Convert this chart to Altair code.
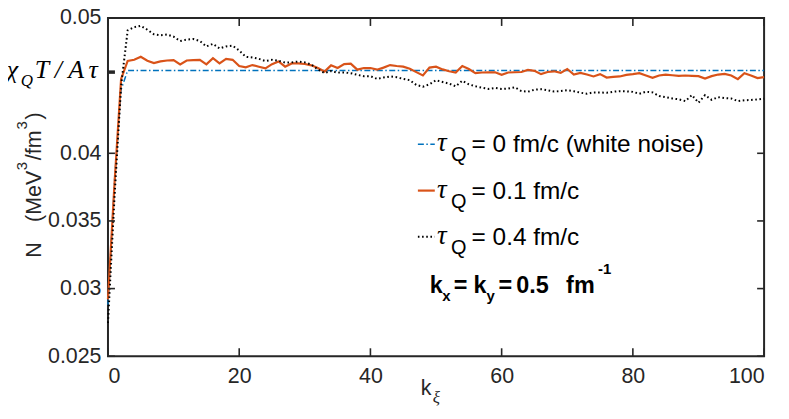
import altair as alt
import pandas as pd

# ---------------- data ----------------
k_grid = list(range(101))

n_orange = [0.0292, 0.0378, 0.0455, 0.04683, 0.04691, 0.04713, 0.04684, 0.04667, 0.04679, 0.04686,
            0.04688, 0.04657, 0.04686, 0.04688, 0.04691, 0.04657, 0.04703, 0.04664, 0.04698, 0.04691,
            0.04645, 0.04635, 0.04652, 0.04640, 0.04628, 0.04659, 0.04679, 0.04640, 0.04664, 0.04664,
            0.04660, 0.04650, 0.04630, 0.04604, 0.04650, 0.04630, 0.04659, 0.04662, 0.04618, 0.04630,
            0.04630, 0.04618, 0.04633, 0.04652, 0.04645, 0.04640, 0.04625, 0.04600, 0.04575, 0.04633,
            0.04640, 0.04620, 0.04606, 0.04597, 0.04645, 0.04623, 0.04592, 0.04597, 0.04598, 0.04599,
            0.04580, 0.04597, 0.04599, 0.04601, 0.04616, 0.04609, 0.04585, 0.04601, 0.04606, 0.04594,
            0.04623, 0.04582, 0.04594, 0.04582, 0.04568, 0.04585, 0.04560, 0.04565, 0.04568, 0.04580,
            0.04585, 0.04592, 0.04575, 0.04558, 0.04575, 0.04582, 0.04577, 0.04572, 0.04575, 0.04572,
            0.04570, 0.04553, 0.04570, 0.04582, 0.04587, 0.04575, 0.04548, 0.04592, 0.04575, 0.04556,
            0.04563]

n_black = [0.02746, 0.0368, 0.0450, 0.04908, 0.04932, 0.04942, 0.04913, 0.04880, 0.04872, 0.04878,
           0.04862, 0.04830, 0.04840, 0.04845, 0.04830, 0.04790, 0.04809, 0.04775, 0.04790, 0.04795,
           0.04760, 0.04713, 0.04708, 0.04698, 0.04682, 0.04691, 0.04684, 0.04670, 0.04672, 0.04678,
           0.04672, 0.04656, 0.04620, 0.04593, 0.04608, 0.04596, 0.04598, 0.04592, 0.04580, 0.04570,
           0.04570, 0.04550, 0.04560, 0.04568, 0.04562, 0.04550, 0.04540, 0.04505, 0.04492, 0.04510,
           0.04540, 0.04527, 0.04515, 0.04495, 0.04536, 0.04510, 0.04495, 0.04485, 0.04476, 0.04483,
           0.04475, 0.04478, 0.04488, 0.04460, 0.04455, 0.04470, 0.04474, 0.04466, 0.04456, 0.04460,
           0.04466, 0.04459, 0.04448, 0.04440, 0.04450, 0.04450, 0.04447, 0.04455, 0.04459, 0.04458,
           0.04454, 0.04440, 0.04455, 0.04450, 0.04423, 0.04415, 0.04405, 0.04399, 0.04386, 0.04430,
           0.04374, 0.04430, 0.04395, 0.04415, 0.04408, 0.04405, 0.04386, 0.04392, 0.04394, 0.04398,
           0.04403]

k_blue = [0, 1, 2, 3, 100]
n_blue = [0.0288, 0.0380, 0.0447, 0.04612, 0.04612]

x_ticks = [0, 20, 40, 60, 80, 100]
y_ticks = [0.025, 0.03, 0.035, 0.04, 0.05]
y_special = [0.0460]   # chi_Q T / A tau

legend_labels = ["= 0 fm/c (white noise)", "= 0.1 fm/c", "= 0.4 fm/c"]

# ---------------- layout ----------------
W, H = 659.5, 340
X0, Y0 = 108.5, 17          # page position of the plot origin
AX = "#262626"
BLUE, ORANGE, BLACK = "#0072BD", "#D95319", "#000000"

xs = alt.Scale(domain=[0, 100], nice=False, zero=False)
ys = alt.Scale(domain=[0.025, 0.05], nice=False, zero=False)

X = alt.X("k:Q", scale=xs, title=None,
          axis=alt.Axis(values=x_ticks, ticks=False, domain=False, grid=False,
                        labelFont="Liberation Sans", labelFontSize=21.5, labelColor=AX,
                        labelPadding=9))
Y = alt.Y("N:Q", scale=ys, title=None,
          axis=alt.Axis(values=y_ticks, format="~g", ticks=False, domain=False, grid=False,
                        labelFont="Liberation Sans", labelFontSize=21.5, labelColor=AX,
                        labelPadding=7))

df_o = pd.DataFrame({"k": k_grid, "N": n_orange})
df_b = pd.DataFrame({"k": k_grid, "N": n_black})
df_w = pd.DataFrame({"k": k_blue, "N": n_blue})

line_w = alt.Chart(df_w).mark_line(color=BLUE, strokeWidth=1.5,
                                   strokeDash=[6, 2.5, 1.5, 2.5]).encode(x=X, y=Y)
line_o = alt.Chart(df_o).mark_line(color=ORANGE, strokeWidth=2.2).encode(x=X, y=Y)
line_b = alt.Chart(df_b).mark_line(color=BLACK, strokeWidth=2,
                                   strokeDash=[1.6, 2.6]).encode(x=X, y=Y)

# inward ticks (MATLAB box style)
dfx = pd.DataFrame({"k": x_ticks})
dfy = pd.DataFrame({"N": y_ticks})
dfs = pd.DataFrame({"N": y_special})
tb = alt.Chart(dfx).mark_rule(color=AX, strokeWidth=1.6).encode(x=X, y=alt.value(H), y2=alt.value(H - 8))
tt = alt.Chart(dfx).mark_rule(color=AX, strokeWidth=1.6).encode(x=X, y=alt.value(0), y2=alt.value(8))
tl = alt.Chart(dfy).mark_rule(color=AX, strokeWidth=1.6).encode(y=Y, x=alt.value(0), x2=alt.value(7))
tr = alt.Chart(dfy).mark_rule(color=AX, strokeWidth=1.6).encode(y=Y, x=alt.value(W - 7), x2=alt.value(W))
ts = alt.Chart(dfs).mark_rule(color=AX, strokeWidth=3.5).encode(y=Y, x=alt.value(0), x2=alt.value(7))


def txt(items, size, font="Liberation Sans", style="normal", weight="normal",
        angle=0, align="left", color="#000000"):
    df = pd.DataFrame(items, columns=["t", "px", "py"])
    df["xr"] = df["px"] - X0
    df["yr"] = df["py"] - Y0
    return alt.Chart(df).mark_text(font=font, fontSize=size, fontStyle=style,
                                   fontWeight=weight, angle=angle, align=align,
                                   baseline="alphabetic", color=color).encode(
        x=alt.X("xr:Q", scale=None), y=alt.Y("yr:Q", scale=None), text="t:N")


# special y tick label  chi_Q T / A tau
chi_main = txt([["χ", 12.5, 77], ["T", 42, 77], ["/", 58.5, 77], ["A", 76.5, 77], ["τ", 93.5, 77]],
               26, font="Liberation Serif", style="italic", align="center")
chi_sub = txt([["Q", 27, 85]], 17, font="Liberation Serif", style="italic", align="center")

# y axis title  N (MeV^3/fm^3)
yt_main = txt([["N", 41.5, 258], ["(MeV", 41.5, 222], ["/fm", 41.5, 160], [")", 41.5, 119]],
              21.5, angle=270, color=AX)
yt_sup = txt([["3", 27, 170], ["3", 27, 129]], 15, angle=270, color=AX)

# x axis title k_xi
xt_main = txt([["k", 423, 396]], 21.5, color=AX)
xt_sub = txt([["ξ", 435, 404]], 17, font="Liberation Serif", style="italic", color=AX)

# legend
rows = [152, 198.5, 245]
leg_main = txt([[legend_labels[i], 474, rows[i]] for i in range(3)], 24.5)
leg_tau = txt([["τ", 444, r - 1] for r in rows], 27, font="Liberation Serif",
              style="italic", align="center")
leg_q = txt([["Q", 461, r + 9] for r in rows], 20, align="center")

leg_lines = []
for i, (col, dash, sw) in enumerate([(BLUE, [6, 2.5, 1.5, 2.5], 1.5),
                                      (ORANGE, None, 2.2),
                                      (BLACK, [1.6, 2.6], 2)]):
    yy = rows[i] - 8 - Y0
    kw = dict(color=col, strokeWidth=sw)
    if dash is not None:
        kw["strokeDash"] = dash
    leg_lines.append(alt.Chart(pd.DataFrame({"a": [0]})).mark_rule(**kw).encode(
        x=alt.value(420 - X0), x2=alt.value(437 - X0), y=alt.value(yy)))

# kx = ky = 0.5 fm^-1
kb_main = txt([["k", 432, 293], ["=", 456, 293], ["k", 476, 293], ["=", 501, 293],
               ["0.5", 519, 293], ["fm", 569, 293]], 23.5, weight="bold")
kb_sub = txt([["x", 444.5, 301], ["y", 489, 301]], 15, weight="bold")
kb_sup = txt([["-1", 601, 274]], 15, weight="bold")

chart = alt.layer(
    line_w, line_o, line_b, tb, tt, tl, tr, ts,
    chi_main, chi_sub, yt_main, yt_sup, xt_main, xt_sub,
    leg_main, leg_tau, leg_q, *leg_lines, kb_main, kb_sub, kb_sup
).properties(
    width=W, height=H,
    autosize=alt.AutoSizeParams(type="none"),
    padding={"left": 100.5, "top": 9, "right": 17, "bottom": 53},
    background="white",
).configure_view(stroke=AX, strokeWidth=2)

chart.save("out.html", embed_options={"renderer": "svg", "actions": False})
